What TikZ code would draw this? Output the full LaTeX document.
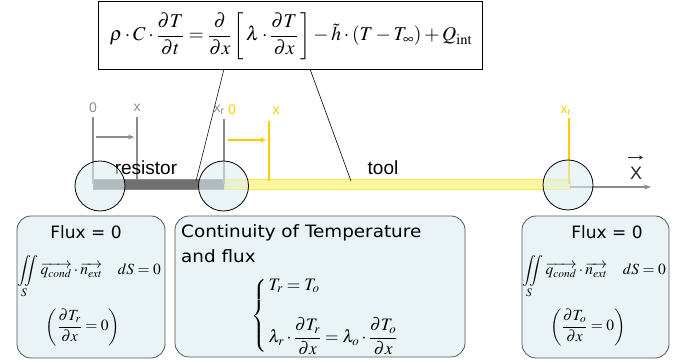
\documentclass[tikz,border=0pt]{standalone}
\usepackage{amsmath}
\usepackage{mathptmx}
\usepackage[no-math]{fontspec}
\setmainfont{Liberation Sans}
\newfontfamily\dejavu{DejaVu Sans}
\newfontfamily\dejawide[FakeStretch=1.08]{DejaVu Sans}
\usetikzlibrary{arrows.meta}
\definecolor{grayline}{HTML}{8C8C8C}
\definecolor{goldline}{HTML}{FFCC00}
\definecolor{barfill}{HTML}{FFF7A0}
\definecolor{barborder}{HTML}{FFE640}
\definecolor{resfill}{HTML}{707070}
\definecolor{circfill}{HTML}{DDEDF2}
\definecolor{boxfill}{HTML}{EAF4F6}
\definecolor{boxborder}{HTML}{555555}
\tikzset{
  lab/.style={font=\fontsize{14}{15}\selectfont, inner sep=0pt},
  big/.style={font=\fontsize{19}{21}\selectfont, inner sep=0pt},
  joint/.style={circle, minimum size=50pt, inner sep=0pt, draw=black, line width=0.8pt, fill=circfill, fill opacity=0.6},
  infobox/.style={draw=boxborder, line width=0.8pt, fill=boxfill, rounded corners=14pt, inner sep=0pt},
  flux/.style={font=\dejavu\fontsize{17}{19}\selectfont, inner sep=0pt},
  eqs/.style={font=\fontsize{15.5}{17}\selectfont, inner sep=0pt},
  gtick/.style={grayline, line width=1.8pt},
  ytick/.style={goldline, line width=1.8pt},
}
\begin{document}
\begin{tikzpicture}[x=1pt,y=-1pt]
\useasboundingbox (0,0) rectangle (689,363);
% top equation
\node[draw=black, line width=0.8pt, fill=white, minimum width=384pt, minimum height=68pt, inner sep=0pt] (eqbox) at (290,35) {};
\node[font=\fontsize{19.6}{21}\selectfont, inner sep=0pt] (eq) at (291,36)
 {$\displaystyle \rho\cdot C\cdot\frac{\partial T}{\partial t}=\frac{\partial}{\partial x}\left[\,\lambda\cdot\frac{\partial T}{\partial x}\,\right]-\tilde{h}\cdot(T-T_{\infty})+Q_{\mathrm{int}}$};
\coordinate (p1) at (224,69);
\coordinate (p2) at (310,69);
\coordinate (q1) at (196,181);
\coordinate (q2) at (351,181);
% bars
\draw[fill=resfill, draw=grayline, line width=0.6pt] (93,179) rectangle (224,189);
\draw[fill=barfill, draw=barborder, line width=0.8pt] (224,179) rectangle (570,189);
\draw[grayline, line width=1.6pt, -{Stealth[length=7pt,width=5pt]}] (570,187) -- (651,187);
\node[font=\fontsize{18}{20}\selectfont, inner sep=0pt, text=black!85] (X) at (636,173) {X};
\draw[black!85, line width=1pt, -{Stealth[length=4pt,width=4pt]}] (628,157.5) -- (643,157.5);
% connectors from equation
\draw[black, line width=0.6pt] (p1) -- (q1);
\draw[black, line width=0.6pt] (p2) -- (q2);
% ticks
\draw[gtick] (93,117) -- (93,184);
\draw[gtick] (137,117) -- (137,180);
\draw[gtick] (224,119) -- (224,184);
\draw[grayline, line width=1.4pt, -{Stealth[length=6pt,width=5pt]}] (96,137) -- (134,137);
\draw[ytick] (269,121) -- (269,181);
\draw[goldline, line width=1.4pt, -{Stealth[length=6pt,width=5pt]}] (228,140) -- (266,140);
\draw[ytick] (569,118) -- (569,184);
% labels
\node[lab, text=grayline] (l0) at (93,108) {0};
\node[lab, text=grayline] (lx) at (137,108) {x};
\node[lab, text=grayline] (lxr) at (219,110) {x\textsubscript{r}};
\node[lab, text=goldline] (y0) at (232,110) {0};
\node[lab, text=goldline] (yx) at (276,111) {x};
\node[lab, text=goldline] (yxr) at (566,111) {x\textsubscript{r}};
\node[big, anchor=base] (res) at (146,175) {resistor};
\node[big, anchor=base] (tool) at (383,175) {tool};
% joints
\node[joint] (c1) at (100,186) {};
\node[joint] (c2) at (223.5,186) {};
\node[joint] (c3) at (568,185) {};
% boxes
\node[infobox, minimum width=148pt, minimum height=142pt] (b1) at (91,287) {};
\node[infobox, minimum width=290pt, minimum height=141pt] (b2) at (320,286.5) {};
\node[infobox, minimum width=147pt, minimum height=142pt] (b3) at (595.5,287) {};
% box 1
\node[flux] (f1) at (86,232.5) {Flux = 0};
\node[eqs] (i1) at (89,277) {$\displaystyle\iint\limits_{S}\overrightarrow{q_{cond}}\cdot\overrightarrow{n_{ext}}\quad dS=0$};
\node[eqs] (d1) at (83,327) {$\displaystyle\left(\frac{\partial T_{r}}{\partial x}=0\right)$};
% box 2
\node[inner sep=0pt, anchor=north west, align=left, font=\dejawide\fontsize{17}{25}\selectfont] (ct) at (181,224) {Continuity of Temperature\\and flux};
\node[eqs, anchor=west, font=\fontsize{17.5}{19}\selectfont] (sys) at (251,316) {$\left\{\begin{array}{@{\,}l}T_{r}=T_{o}\\[22pt]\displaystyle\lambda_{r}\cdot\frac{\partial T_{r}}{\partial x}=\lambda_{o}\cdot\frac{\partial T_{o}}{\partial x}\end{array}\right.$};
% box 3
\node[flux] (f3) at (607,232.5) {Flux = 0};
\node[eqs] (i3) at (594,277) {$\displaystyle\iint\limits_{S}\overrightarrow{q_{cond}}\cdot\overrightarrow{n_{ext}}\quad dS=0$};
\node[eqs] (d3) at (588,327) {$\displaystyle\left(\frac{\partial T_{o}}{\partial x}=0\right)$};
\end{tikzpicture}
\end{document}
